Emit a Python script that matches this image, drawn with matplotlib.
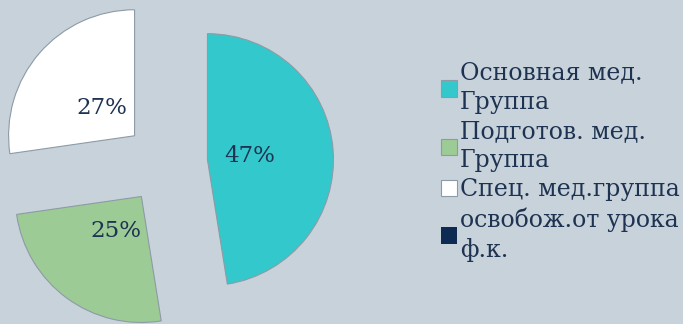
import matplotlib.pyplot as plt

# доли групп (%), освобождённых на диаграмме не видно
groups = ['Основная мед.\nГруппа', 'Подготов. мед.\nГруппа', 'Спец. мед.группа', 'освобож.от урока\nф.к.']
values = [47, 25, 27, 0]
colors = ['#33c9cc', '#9ccb95', '#ffffff', '#0d2a52']

bg = '#c8d2da'
txt = '#1e3352'
plt.rcParams['font.family'] = ['DejaVu Serif']

fig = plt.figure(figsize=(6.83, 3.24), dpi=100, facecolor=bg)
ax = fig.add_axes([0, 0, 1, 1])
ax.set_facecolor(bg)

total = sum(values)
wedges, texts, autotexts = ax.pie(
    values, colors=colors, startangle=90, counterclock=False,
    explode=[0.33] * len(values), pctdistance=0.34,
    autopct=lambda p: '%d%%' % round(p * total / 100) if p > 0 else '',
    wedgeprops=dict(edgecolor='#8d9ba6', linewidth=0.8),
    textprops=dict(color=txt, fontsize=16.5))
for w, v in zip(wedges, values):
    if v == 0:
        w.set_linewidth(0)

# центр пирога ~ (166,163) px, радиус ~126 px
r = 126.0
ax.set_xlim(-166 / r, (683 - 166) / r)
ax.set_ylim(-161 / r, 163 / r)
ax.set_aspect('equal')
ax.axis('off')

leg = fig.legend(wedges, groups, loc='center left', bbox_to_anchor=(0.645, 0.5),
                 frameon=False, fontsize=17, labelcolor=txt,
                 handlelength=0.68, handleheight=0.68, handletextpad=0.15,
                 labelspacing=0.25, borderpad=0, borderaxespad=0)
for t in leg.get_texts():
    t.set_linespacing(1.36)

fig.savefig('out.png', dpi=100, facecolor=bg)
